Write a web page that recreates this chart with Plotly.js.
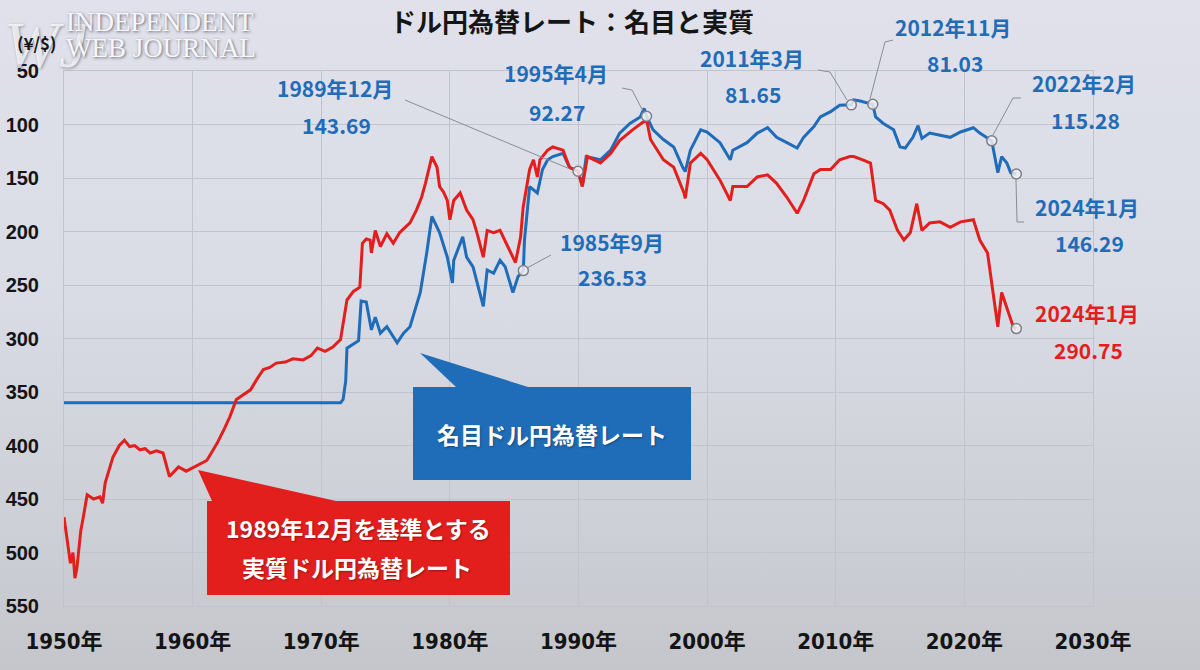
<!DOCTYPE html>
<html>
<head>
<meta charset="utf-8">
<script src="https://cdn.plot.ly/plotly-3.0.1.min.js"></script>
<style>
  html, body { margin: 0; padding: 0; }
  body { width: 1200px; height: 670px; overflow: hidden;
         background: linear-gradient(to bottom, #e0e1eb 0%, #d9dbe5 45%, #cdcfd6 80%, #c4c6cb 100%); }
  #chart { width: 1200px; height: 670px; }
</style>
</head>
<body>
<div id="chart"></div>
<script>
// ---------- data (decimal years, yen per dollar) ----------
const nominalYears = [1950.0, 1971.5, 1971.7, 1971.9, 1972.0, 1972.9, 1973.1, 1973.5, 1973.9, 1974.2, 1974.6, 1975.1, 1975.9, 1976.4, 1976.9, 1977.7, 1978.2, 1978.6, 1979.2, 1979.8, 1980.2, 1980.3, 1981.0, 1981.3, 1981.8, 1982.6, 1982.9, 1983.4, 1983.9, 1984.3, 1984.9, 1985.3, 1985.71, 1985.8, 1986.2, 1986.8, 1987.2, 1987.6, 1988.0, 1988.8, 1989.3, 1989.96, 1990.3, 1990.6, 1991.7, 1992.5, 1993.2, 1994.0, 1994.8, 1995.1, 1995.29, 1995.8, 1996.6, 1997.4, 1998.1, 1998.3, 1998.7, 1999.5, 2000.0, 2001.0, 2001.8, 2002.0, 2003.1, 2003.9, 2004.7, 2005.4, 2006.2, 2007.0, 2007.5, 2008.3, 2008.8, 2009.6, 2010.3, 2011.21, 2011.4, 2011.9, 2012.5, 2012.88, 2013.1, 2013.7, 2014.5, 2015.0, 2015.4, 2016.0, 2016.4, 2016.7, 2017.3, 2018.1, 2018.9, 2019.7, 2020.7, 2021.2, 2022.13, 2022.6, 2022.9, 2023.3, 2023.6, 2024.04];
const nominalRate = [360, 360, 357, 340, 309, 302, 265, 266, 292, 280, 295, 289, 304, 295, 289, 257, 220, 186, 201, 224, 248, 227, 205, 224, 233, 270, 236, 239, 227, 233, 257, 242, 236.53, 208, 158, 164, 142, 133, 130, 127, 140, 143.69, 157, 130, 133, 124, 108, 99, 93, 85, 92.27, 105, 114, 121, 140, 144, 124, 105, 107, 117, 133, 124, 117, 108, 103, 112, 117, 122, 112, 102, 93, 88, 82, 81.65, 77, 78, 80, 81.03, 93, 99, 105, 121, 122, 112, 101, 113, 108, 110, 112, 107, 103, 108, 115.28, 145, 130, 136, 145, 146.29];

const realYears = [1950.0, 1950.3, 1950.5, 1950.7, 1950.85, 1951.0, 1951.3, 1951.5, 1951.8, 1952.3, 1952.8, 1953.0, 1953.2, 1953.8, 1954.3, 1954.7, 1955.1, 1955.5, 1955.9, 1956.3, 1956.7, 1957.2, 1957.7, 1958.2, 1958.9, 1959.5, 1960.0, 1960.5, 1961.1, 1961.5, 1961.9, 1962.4, 1962.9, 1963.4, 1964.0, 1964.5, 1965.0, 1965.5, 1966.0, 1966.5, 1967.2, 1967.8, 1968.6, 1969.2, 1969.7, 1970.3, 1970.9, 1971.5, 1972.0, 1972.5, 1973.0, 1973.2, 1973.5, 1973.8, 1973.9, 1974.2, 1974.6, 1975.1, 1975.6, 1976.1, 1976.9, 1977.4, 1977.8, 1978.1, 1978.6, 1979.0, 1979.2, 1979.5, 1979.8, 1980.0, 1980.3, 1980.8, 1981.3, 1981.8, 1982.1, 1982.6, 1982.9, 1983.4, 1983.9, 1984.3, 1984.5, 1985.1, 1985.5, 1985.7, 1986.2, 1986.5, 1986.8, 1987.0, 1987.6, 1988.0, 1988.8, 1989.3, 1989.96, 1990.3, 1990.7, 1991.7, 1992.5, 1993.2, 1994.2, 1995.0, 1995.3, 1995.6, 1996.6, 1997.4, 1998.2, 1998.3, 1998.7, 1999.5, 2000.0, 2001.0, 2001.8, 2002.0, 2003.1, 2003.9, 2004.7, 2005.4, 2006.2, 2007.0, 2007.5, 2008.3, 2008.8, 2009.6, 2010.3, 2011.1, 2011.4, 2012.1, 2012.7, 2013.1, 2013.7, 2014.2, 2014.8, 2015.3, 2015.8, 2016.3, 2016.7, 2017.3, 2018.1, 2018.9, 2019.7, 2020.7, 2021.2, 2021.8, 2022.2, 2022.6, 2022.9, 2023.3, 2023.8, 2024.04];
const realRate = [467, 495, 510, 500, 524, 515, 480, 467, 446, 450, 448, 454, 435, 411, 400, 395, 401, 400, 404, 403, 407, 405, 407, 429, 420, 424, 421, 418, 414, 406, 398, 386, 373, 357, 352, 348, 338, 329, 327, 323, 322, 319, 320, 316, 309, 312, 308, 301, 264, 256, 252, 211, 207, 208, 220, 199, 214, 202, 211, 201, 192, 180, 168, 155, 130, 140, 158, 163, 171, 189, 171, 164, 180, 189, 201, 224, 199, 201, 199, 208, 214, 229, 205, 177, 142, 133, 149, 133, 124, 121, 124, 140, 143.69, 158, 130, 136, 127, 115, 105, 98, 96, 114, 133, 140, 164, 169, 136, 127, 133, 152, 171, 158, 158, 149, 147, 155, 168, 183, 171, 146, 142, 142, 133, 130, 130, 133, 136, 171, 174, 180, 199, 208, 201, 174, 199, 192, 191, 196, 191, 189, 208, 220, 257, 289, 257, 271, 289, 290.75];

// highlighted points
const nominalMarkYears = [1985.71, 1989.96, 1995.29, 2011.21, 2012.88, 2022.13, 2024.04];
const nominalMarkRates = [236.53, 143.69, 92.27, 81.65, 81.03, 115.28, 146.29];
const realMarkYears = [2024.04];
const realMarkRates = [290.75];

const tickYears = [1950, 1960, 1970, 1980, 1990, 2000, 2010, 2020, 2030];
const tickYearLabels = tickYears.map(y => y + '年');
const yTicks = [50, 100, 150, 200, 250, 300, 350, 400, 450, 500, 550];

const titleText = 'ドル円為替レート：名目と実質';
const yUnit = '(¥/$)';

// ---------- layout helpers (pixel -> paper) ----------
const L = 64, R = 1093, T = 71, B = 606;
const px = x => (x - L) / (R - L);
const py = y => (B - y) / (B - T);

const BLUE = '#1f6cb8';
const RED = '#e21f1d';
const JP = "'Noto Sans CJK JP', 'Noto Sans', sans-serif";

const traces = [
  { x: nominalYears, y: nominalRate, type: 'scatter', mode: 'lines',
    line: { color: BLUE, width: 3 }, hoverinfo: 'skip', showlegend: false },
  { x: realYears, y: realRate, type: 'scatter', mode: 'lines',
    line: { color: RED, width: 3 }, hoverinfo: 'skip', showlegend: false },
  { x: nominalMarkYears.concat(realMarkYears), y: nominalMarkRates.concat(realMarkRates),
    type: 'scatter', mode: 'markers', cliponaxis: false,
    marker: { size: 10, color: 'rgba(238,239,245,0.85)', line: { color: '#7d7f86', width: 1.5 } },
    hoverinfo: 'skip', showlegend: false }
];

function lbl(text, cx, cy, color, size, extra) {
  return Object.assign({ text: text, x: px(cx), y: py(cy), xref: 'paper', yref: 'paper',
    xanchor: 'center', yanchor: 'middle', showarrow: false,
    font: { family: JP, size: size, color: color, weight: 700 } }, extra || {});
}
function poly(points, color, width) {
  const d = points.map((p, i) => (i ? 'L' : 'M') + px(p[0]).toFixed(5) + ',' + py(p[1]).toFixed(5)).join(' ');
  return { type: 'path', xref: 'paper', yref: 'paper', path: d, line: { color: color, width: width } };
}
function filled(points, fill) {
  const d = points.map((p, i) => (i ? 'L' : 'M') + px(p[0]).toFixed(5) + ',' + py(p[1]).toFixed(5)).join(' ') + ' Z';
  return { type: 'path', xref: 'paper', yref: 'paper', path: d, fillcolor: fill, line: { width: 0 }, layer: 'above' };
}

const annotations = [
  // logo (drawn first, behind the other texts)
  { text: 'WJ', x: px(2), y: py(44), xref: 'paper', yref: 'paper', xanchor: 'left', yanchor: 'middle', showarrow: false,
    font: { family: "'Liberation Serif', serif", size: 66, color: 'rgba(250,250,252,0.8)', style: 'italic', shadow: '1px 1px 3px rgba(60,60,70,0.6)' } },
  { text: 'INDEPENDENT', x: px(64), y: py(22), xref: 'paper', yref: 'paper', xanchor: 'left', yanchor: 'middle', showarrow: false,
    font: { family: "'Liberation Serif', serif", size: 27, color: '#f6f6fa', shadow: '1px 1px 3px rgba(60,60,70,0.75)' } },
  { text: 'WEB JOURNAL', x: px(64), y: py(48), xref: 'paper', yref: 'paper', xanchor: 'left', yanchor: 'middle', showarrow: false,
    font: { family: "'Liberation Serif', serif", size: 27, color: '#f6f6fa', shadow: '1px 1px 3px rgba(60,60,70,0.75)' } },
  // title and unit
  lbl(titleText, 572, 21, '#151515', 26),
  lbl(yUnit, 37, 42, '#151515', 17),
  // point labels
  lbl('1989年12月', 335, 88, BLUE, 21), lbl('143.69', 336, 125, BLUE, 21),
  lbl('1995年4月', 556, 73, BLUE, 21), lbl('92.27', 557, 112, BLUE, 21),
  lbl('1985年9月', 612, 242, BLUE, 21), lbl('236.53', 612, 277, BLUE, 21),
  lbl('2011年3月', 752, 58, BLUE, 21), lbl('81.65', 753, 94, BLUE, 21),
  lbl('2012年11月', 953, 27, BLUE, 21), lbl('81.03', 955, 63, BLUE, 21),
  lbl('2022年2月', 1084, 83, BLUE, 21), lbl('115.28', 1085, 120, BLUE, 21),
  lbl('2024年1月', 1087, 207, BLUE, 21), lbl('146.29', 1089, 243, BLUE, 21),
  lbl('2024年1月', 1087, 313, RED, 21), lbl('290.75', 1088, 350, RED, 21),
  // callout texts
  lbl('名目ドル円為替レート', 552, 434, '#ffffff', 23),
  lbl('1989年12月を基準とする', 358, 528, '#ffffff', 23),
  lbl('実質ドル円為替レート', 357, 567, '#ffffff', 23)
];
// slight shadow on callout texts
annotations.slice(-3).forEach(a => { a.font.shadow = '1px 1px 2px rgba(0,0,0,0.35)'; });

const GREYLINE = '#8b8d94';
const shapes = [
  // leader lines
  poly([[405, 100], [570, 169]], GREYLINE, 1),
  poly([[622, 88], [632, 90], [643, 111]], GREYLINE, 1),
  poly([[551, 255], [527, 268]], GREYLINE, 1),
  poly([[818, 70], [830, 72], [847, 100]], GREYLINE, 1),
  poly([[893, 40], [885, 42], [870, 99]], GREYLINE, 1),
  poly([[1021, 98], [1013, 98], [993, 135]], GREYLINE, 1),
  poly([[1016, 179], [1017, 222], [1024, 222]], GREYLINE, 1),
  // callout boxes
  filled([[413, 387], [456, 387], [420, 353], [528, 387], [691, 387], [691, 480], [413, 480]], BLUE),
  filled([[207, 501], [212, 501], [198, 470], [336, 501], [510, 501], [510, 595], [207, 595]], RED)
];

const layout = {
  width: 1200, height: 670, autosize: false,
  margin: { l: L, r: 1200 - R, t: T, b: 670 - B, pad: 0 },
  paper_bgcolor: 'rgba(0,0,0,0)', plot_bgcolor: 'rgba(0,0,0,0)',
  showlegend: false,
  xaxis: {
    range: [1950, 2030], tickmode: 'array', tickvals: tickYears, ticktext: tickYearLabels,
    showgrid: true, gridcolor: '#c2c4cd', gridwidth: 1, zeroline: false,
    showline: true, linecolor: '#c2c4cd', linewidth: 1, mirror: true,
    ticks: 'outside', ticklen: 16, tickcolor: 'rgba(0,0,0,0)',
    tickfont: { family: "'Liberation Sans Narrow', 'DejaVu Sans Condensed', 'Noto Sans CJK JP', sans-serif", size: 22, color: '#141414', weight: 700 },
    fixedrange: true
  },
  yaxis: {
    range: [550, 50], tickmode: 'array', tickvals: yTicks,
    showgrid: true, gridcolor: '#c2c4cd', gridwidth: 1, zeroline: false,
    showline: true, linecolor: '#c2c4cd', linewidth: 1, mirror: true,
    ticks: 'outside', ticklen: 20, tickcolor: 'rgba(0,0,0,0)',
    tickfont: { family: "'Liberation Sans', Arial, sans-serif", size: 20, color: '#141414', weight: 700 },
    fixedrange: true
  },
  annotations: annotations,
  shapes: shapes
};

Plotly.newPlot('chart', traces, layout, { displayModeBar: false, staticPlot: true });
</script>
</body>
</html>
